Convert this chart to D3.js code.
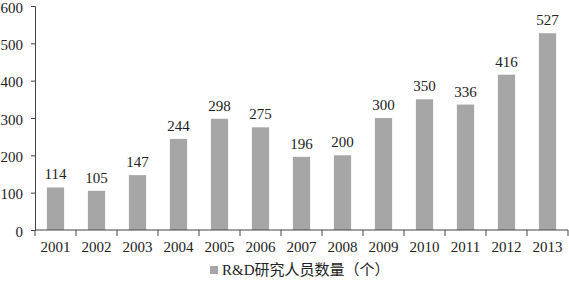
<!DOCTYPE html>
<html>
<head>
<meta charset="utf-8">
<script src="https://cdn.jsdelivr.net/npm/d3@7"></script>
<style>
  body { margin: 0; background: #fff; }
</style>
</head>
<body>
<svg width="569" height="287"></svg>
<script>
var years = ["2001", "2002", "2003", "2004", "2005", "2006", "2007", "2008", "2009", "2010", "2011", "2012", "2013"];
var staff = [114, 105, 147, 244, 298, 275, 196, 200, 300, 350, 336, 416, 527];
var yTicks = [0, 100, 200, 300, 400, 500, 600];
var seriesName = "R&D研究人员数量（个）";

var serif = "'Liberation Serif', 'Times New Roman', serif";
var svg = d3.select("svg");

var x = d3.scaleBand()
    .domain(years)
    .range([35, 568])
    .paddingInner(0.58)
    .paddingOuter(0.29);

var y = d3.scaleLinear()
    .domain([0, 600])
    .range([230, 6]);

// bars
svg.append("g").selectAll("rect")
    .data(staff)
    .enter().append("rect")
      .attr("x", function(d, i) { return x(years[i]); })
      .attr("y", function(d) { return y(d); })
      .attr("width", x.bandwidth())
      .attr("height", function(d) { return y(0) - y(d); })
      .attr("fill", "#a6a6a6");

// value labels
svg.append("g").selectAll("text")
    .data(staff)
    .enter().append("text")
      .attr("x", function(d, i) { return x(years[i]) + x.bandwidth() / 2; })
      .attr("y", function(d) { return y(d) - 8; })
      .attr("text-anchor", "middle")
      .attr("font-family", serif)
      .attr("font-size", 15)
      .attr("fill", "#222")
      .text(function(d) { return d; });

// y axis
var yAxis = svg.append("g")
    .attr("transform", "translate(35,0)")
    .call(d3.axisLeft(y).tickValues(yTicks).tickSize(4).tickPadding(8));
yAxis.attr("font-family", serif).attr("font-size", 15);
yAxis.selectAll("text").attr("fill", "#222").attr("dy", "0.4em");
yAxis.select(".domain").attr("stroke", "#444");
yAxis.selectAll(".tick line").attr("stroke", "#444");

// x axis, ticks between the bands
var xAxis = svg.append("g").attr("transform", "translate(0,230)");
xAxis.append("line")
    .attr("x1", 35).attr("x2", 568)
    .attr("stroke", "#444");
var step = x.step();
var bounds = years.map(function(d) { return x(d) - x.paddingInner() * step / 2; });
bounds.push(568);
xAxis.selectAll("line.tick")
    .data(bounds)
    .enter().append("line")
      .attr("class", "tick")
      .attr("x1", function(d) { return d; })
      .attr("x2", function(d) { return d; })
      .attr("y1", 0).attr("y2", 6)
      .attr("stroke", "#444");
xAxis.selectAll("text")
    .data(years)
    .enter().append("text")
      .attr("x", function(d) { return x(d) + x.bandwidth() / 2; })
      .attr("y", 22)
      .attr("text-anchor", "middle")
      .attr("font-family", serif)
      .attr("font-size", 15)
      .attr("fill", "#222")
      .text(function(d) { return d; });

// legend
var legend = svg.append("g");
legend.append("rect")
    .attr("x", 210).attr("y", 266)
    .attr("width", 8).attr("height", 8)
    .attr("fill", "#a6a6a6");
legend.append("text")
    .attr("x", 222).attr("y", 275)
    .attr("font-family", "'Liberation Serif', 'Noto Sans CJK SC', serif")
    .attr("font-size", 15)
    .attr("fill", "#222")
    .text(seriesName);
</script>
</body>
</html>
